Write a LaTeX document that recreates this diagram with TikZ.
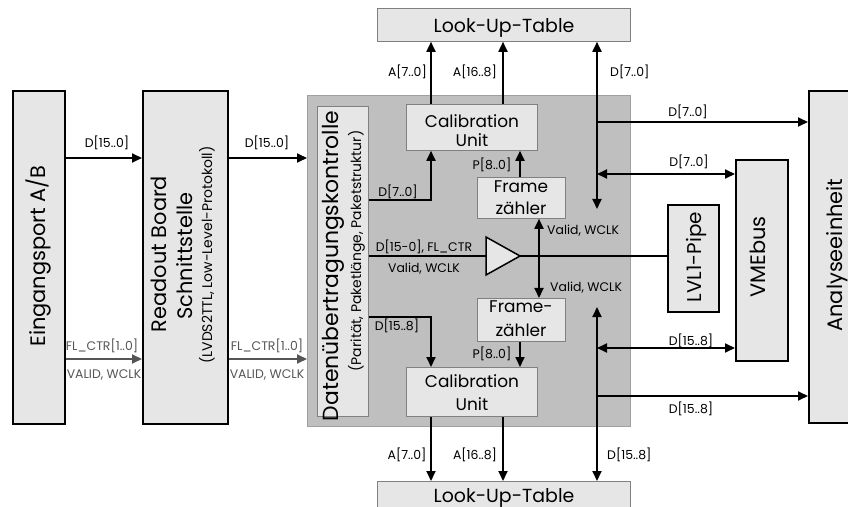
\documentclass[tikz,border=0pt]{standalone}
\usepackage{fontspec}
\setmainfont{Poppins}
\usetikzlibrary{arrows.meta}
\definecolor{lightf}{RGB}{230,230,230}
\definecolor{bigf}{RGB}{191,191,191}
\definecolor{bigd}{RGB}{160,160,160}
\definecolor{thind}{RGB}{128,128,128}
\definecolor{sig}{RGB}{85,85,85}
\newcommand\fsz[1]{\fontsize{#1}{#1}\selectfont}
\begin{document}
\begin{tikzpicture}[x=1bp,y=-1bp,
  blk/.style={draw=black, line width=1.8bp, fill=lightf, inner sep=0, anchor=north west},
  sub/.style={draw=thind, line width=0.8bp, fill=lightf, inner sep=0, anchor=north west},
  tx/.style={inner sep=0, anchor=base},
  lab/.style={font=\fsz{12.5}, inner sep=0, anchor=base},
  rtx/.style={inner sep=0, anchor=base, rotate=90, font=\fsz{21}},
  wire/.style={line width=1.8bp},
  arr/.style={wire, -{Triangle[length=10bp,width=9bp]}},
  darr/.style={wire, {Triangle[length=10bp,width=9bp]}-{Triangle[length=10bp,width=9bp]}},
  garr/.style={line width=1.8bp, draw=sig, -{Triangle[length=10bp,width=9bp]}},
]
\useasboundingbox (0,0) rectangle (848,507);
\fill[white] (0,0) rectangle (848,507);

% boxes
\node[blk, minimum width=52bp, minimum height=333bp] (ein) at (12,90) {};
\node[blk, minimum width=85bp, minimum height=333bp] (rb) at (142,90) {};
\node[draw=bigd, line width=0.8bp, fill=bigf, anchor=north west, inner sep=0,
      minimum width=323bp, minimum height=331bp] (core) at (307,95) {};
\node[sub, minimum width=51bp, minimum height=310bp] (dk) at (317,106) {};
\node[sub, minimum width=253bp, minimum height=33bp] (lutT) at (377,8) {};
\node[sub, minimum width=131bp, minimum height=46bp] (calT) at (406,104) {};
\node[sub, minimum width=88bp, minimum height=41bp] (frT) at (477,177) {};
\node[sub, minimum width=88bp, minimum height=43bp] (frB) at (477,298) {};
\node[sub, minimum width=131bp, minimum height=49bp] (calB) at (406,367) {};
\node[sub, minimum width=253bp, minimum height=40bp] (lutB) at (377,481) {};
\node[blk, minimum width=51bp, minimum height=107bp] (lvl) at (667,204) {};
\node[blk, minimum width=52bp, minimum height=201bp] (vme) at (735,159) {};
\node[blk, minimum width=60bp, minimum height=332bp] (ana) at (808,90) {};

% box texts
\node[rtx] (tEin) at (45,256) {Eingangsport A/B};
\node[rtx] (tRb1) at (166,254) {Readout Board};
\node[rtx] (tRb2) at (192,256) {Schnittstelle};
\node[rtx, font=\fsz{14}] (tRb3) at (212,255) {(LVDS2TTL, Low-Level-Protokoll)};
\node[rtx, font=\fsz{22}] (tDk1) at (338,266) {Datenübertragungskontrolle};
\node[rtx, font=\fsz{14}] (tDk2) at (361,251) {(Parität, Paketlänge, Paketstruktur)};
\node[rtx] (tAna) at (842,255) {Analyseeinheit};
\node[rtx] (tVme) at (765,257) {VMEbus};
\node[rtx, font=\fsz{20}] (tLvl) at (701,257) {LVL1-Pipe};
\node[tx, font=\fsz{19}] (tLutT) at (504,33) {Look-Up-Table};
\node[tx, font=\fsz{19}] (tLutB) at (504,502) {Look-Up-Table};
\node[tx, font=\fsz{17}] (tCalT1) at (472,128) {Calibration};
\node[tx, font=\fsz{17}] (tCalT2) at (472,147) {Unit};
\node[tx, font=\fsz{17}] (tFrT1) at (521,193) {Frame};
\node[tx, font=\fsz{17}] (tFrT2) at (521,215) {zähler};
\node[tx, font=\fsz{17}] (tFrB1) at (521,313) {Frame-};
\node[tx, font=\fsz{17}] (tFrB2) at (521,337) {zähler};
\node[tx, font=\fsz{17}] (tCalB1) at (472,387) {Calibration};
\node[tx, font=\fsz{17}] (tCalB2) at (472,410) {Unit};

% helper coordinates
\coordinate (ampin) at (486,256);
\coordinate (ampout) at (520,256);
\coordinate (dTend) at (597,209);
\coordinate (b1) at (597,122);
\coordinate (b2) at (597,174);
\coordinate (dBtop) at (597,307);
\coordinate (b3) at (597,348);
\coordinate (b4) at (597,396);

% left connectors
\draw[arr] (ein.east |- 0,158) -- (rb.west |- 0,158);
\draw[arr] (rb.east |- 0,158) -- (core.west |- 0,158);
\draw[garr] (ein.east |- 0,359) -- (rb.west |- 0,359);
\draw[garr] (rb.east |- 0,359) -- (core.west |- 0,359);

% core connectors
\draw[arr] (dk.east |- 0,200) -| (calT.south -| 431,0);
\draw[arr] (calT.north -| 431,0) -- (lutT.south -| 431,0);
\draw[arr] (calT.north -| 503,0) -- (lutT.south -| 503,0);
\draw[darr] (lutT.south -| dTend) -- (dTend);
\draw[arr] (b1) -- (ana.west |- b1);
\draw[darr] (b2) -- (vme.west |- b2);
\draw[arr] (frT.north -| 520,0) -- (calT.south -| 520,0);
\draw[darr] (frT.south -| 539,0) -- (frB.north -| 539,0);
\draw[arr] (frB.south -| 520,0) -- (calB.north -| 520,0);
\draw[arr] (dk.east |- 0,317) -| (calB.north -| 431,0);
\draw[arr] (calB.south -| 431,0) -- (lutB.north -| 431,0);
\draw[arr] (calB.south -| 503,0) -- (lutB.north -| 503,0);
\draw[darr] (dBtop) -- (lutB.north -| dBtop);
\draw[darr] (b3) -- (vme.west |- b3);
\draw[arr] (b4) -- (ana.west |- b4);
\draw[wire] (dk.east |- ampin) -- (ampin);
\draw[line width=1.5bp, fill=lightf] (ampin |- 0,237) -- (ampout) -- (ampin |- 0,275) -- cycle;
\draw[wire] (ampout) -- (lvl.west |- ampout);

% labels
\node[lab] (l1) at (107,148) {D[15..0]};
\node[lab] (l2) at (267,148) {D[15..0]};
\node[lab, text=sig] (l3) at (102,350) {FL\_CTR[1..0]};
\node[lab, text=sig] (l4) at (104,378) {VALID, WCLK};
\node[lab, text=sig] (l5) at (267,350) {FL\_CTR[1..0]};
\node[lab, text=sig] (l6) at (267,378) {VALID, WCLK};
\node[lab, anchor=base east] (l7) at (427,77) {A[7..0]};
\node[lab, anchor=base east] (l8) at (497,77) {A[16..8]};
\node[lab, anchor=base west] (l9) at (610,77) {D[7..0]};
\node[lab] (l10) at (688,117) {D[7..0]};
\node[lab] (l11) at (689,167) {D[7..0]};
\node[lab] (l12) at (492,170) {P[8..0]};
\node[lab] (l13) at (398,197) {D[7..0]};
\node[lab] (l14) at (424,252) {D[15-0], FL\_CTR};
\node[lab] (l15) at (424,273) {Valid, WCLK};
\node[lab, anchor=base west] (l16) at (547,235) {Valid, WCLK};
\node[lab, anchor=base west] (l17) at (550,292) {Valid, WCLK};
\node[lab] (l18) at (397,331) {D[15..8]};
\node[lab] (l19) at (492,358) {P[8..0]};
\node[lab] (l20) at (407,459) {A[7..0]};
\node[lab] (l21) at (475,459) {A[16..8]};
\node[lab, anchor=base west] (l22) at (607,459) {D[15..8]};
\node[lab] (l23) at (691,345) {D[15..8]};
\node[lab] (l24) at (691,413) {D[15..8]};
\end{tikzpicture}
\end{document}
